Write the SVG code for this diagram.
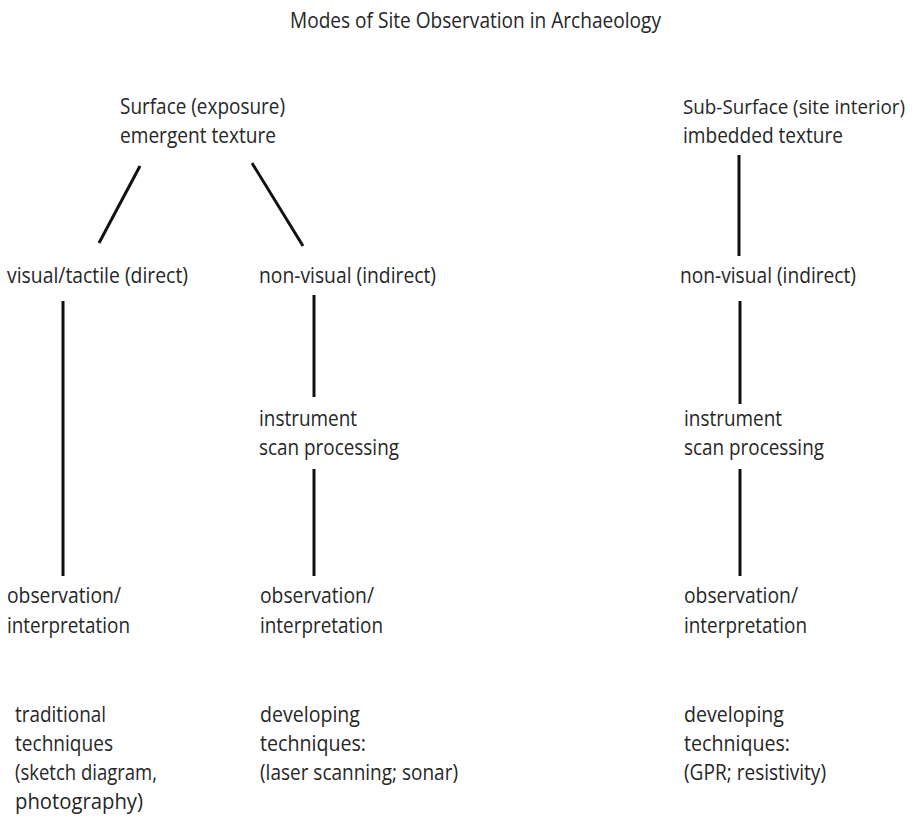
<svg xmlns="http://www.w3.org/2000/svg" width="914" height="818" viewBox="0 0 914 818">
<style>
text{font-family:"Open Sans","Noto Sans","Liberation Sans",sans-serif;font-size:21px;fill:#262626}
.c line{stroke:#111;stroke-width:3;stroke-linecap:butt}
</style>
<rect width="914" height="818" fill="#fff"/>
<g id="title"><text x="290" y="28" textLength="371" lengthAdjust="spacingAndGlyphs">Modes of Site Observation in Archaeology</text></g>
<g id="surface">
<text x="120" y="114" textLength="165" lengthAdjust="spacingAndGlyphs">Surface (exposure)</text>
<text x="120" y="143" textLength="156" lengthAdjust="spacingAndGlyphs">emergent texture</text>
</g>
<g id="subsurface">
<text x="683" y="114" style="font-size:19.5px" textLength="222" lengthAdjust="spacingAndGlyphs">Sub-Surface (site interior)</text>
<text x="683" y="143" textLength="160" lengthAdjust="spacingAndGlyphs">imbedded texture</text>
</g>
<g id="visual"><text x="7" y="283" textLength="181" lengthAdjust="spacingAndGlyphs">visual/tactile (direct)</text></g>
<g id="nonvisual1"><text x="259" y="283" textLength="177" lengthAdjust="spacingAndGlyphs">non-visual (indirect)</text></g>
<g id="nonvisual2"><text x="680" y="283" textLength="176" lengthAdjust="spacingAndGlyphs">non-visual (indirect)</text></g>
<g id="instrument1">
<text x="259" y="426" textLength="98" lengthAdjust="spacingAndGlyphs">instrument</text>
<text x="259" y="455" textLength="140" lengthAdjust="spacingAndGlyphs">scan processing</text>
</g>
<g id="instrument2">
<text x="684" y="426" textLength="98" lengthAdjust="spacingAndGlyphs">instrument</text>
<text x="684" y="455" textLength="140" lengthAdjust="spacingAndGlyphs">scan processing</text>
</g>
<g id="obs1">
<text x="7" y="603" textLength="114" lengthAdjust="spacingAndGlyphs">observation/</text>
<text x="7" y="633" textLength="123" lengthAdjust="spacingAndGlyphs">interpretation</text>
</g>
<g id="obs2">
<text x="260" y="603" textLength="114" lengthAdjust="spacingAndGlyphs">observation/</text>
<text x="260" y="633" textLength="123" lengthAdjust="spacingAndGlyphs">interpretation</text>
</g>
<g id="obs3">
<text x="684" y="603" textLength="114" lengthAdjust="spacingAndGlyphs">observation/</text>
<text x="684" y="633" textLength="123" lengthAdjust="spacingAndGlyphs">interpretation</text>
</g>
<g id="tech1">
<text x="15" y="722" textLength="91" lengthAdjust="spacingAndGlyphs">traditional</text>
<text x="15" y="751" textLength="98" lengthAdjust="spacingAndGlyphs">techniques</text>
<text x="15" y="780" textLength="142" lengthAdjust="spacingAndGlyphs">(sketch diagram,</text>
<text x="15" y="809" textLength="128" lengthAdjust="spacingAndGlyphs">photography)</text>
</g>
<g id="tech2">
<text x="260" y="722" textLength="100" lengthAdjust="spacingAndGlyphs">developing</text>
<text x="260" y="751" textLength="106" lengthAdjust="spacingAndGlyphs">techniques:</text>
<text x="260" y="780" textLength="198" lengthAdjust="spacingAndGlyphs">(laser scanning; sonar)</text>
</g>
<g id="tech3">
<text x="684" y="722" textLength="100" lengthAdjust="spacingAndGlyphs">developing</text>
<text x="684" y="751" textLength="106" lengthAdjust="spacingAndGlyphs">techniques:</text>
<text x="684" y="780" textLength="142" lengthAdjust="spacingAndGlyphs">(GPR; resistivity)</text>
</g>
<g id="connectors" class="c">
<line x1="140" y1="166" x2="99" y2="243"/>
<line x1="252" y1="163" x2="303" y2="246"/>
<line x1="739" y1="155" x2="739" y2="256"/>
<line x1="63" y1="301" x2="63" y2="576"/>
<line x1="314" y1="295" x2="314" y2="397"/>
<line x1="314" y1="469" x2="314" y2="576"/>
<line x1="740" y1="301" x2="740" y2="404"/>
<line x1="740" y1="469" x2="740" y2="576"/>
</g>
</svg>
